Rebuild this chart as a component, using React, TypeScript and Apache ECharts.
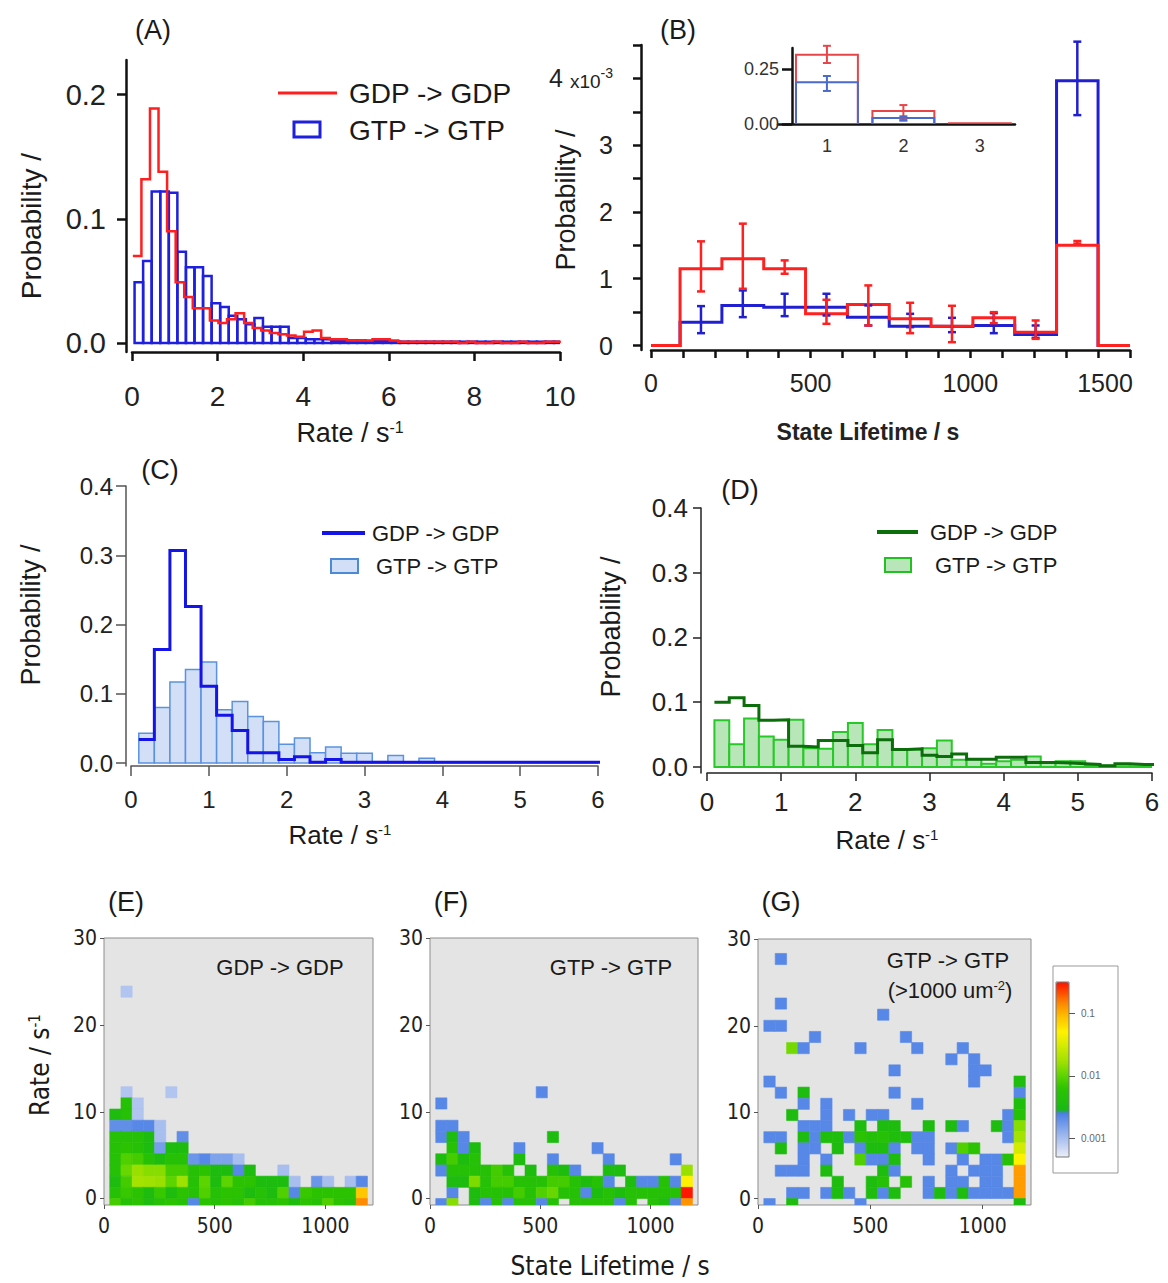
import React, { useEffect, useRef } from "react";
import * as echarts from "echarts";

const FONT = "'Liberation Sans', Arial, sans-serif";
const NARROW = "'Liberation Sans Narrow', 'DejaVu Sans Condensed', 'Liberation Sans', sans-serif";
const INK = "#1a1a1a";

// ---------------- Panel A : rate histograms ----------------
const aBinWidth = 0.2;
const aGdpStart = 0.02;
const aGtpStart = 0.06;
const aGdp = [0.070, 0.132, 0.189, 0.138, 0.090, 0.049, 0.037, 0.028, 0.028, 0.018, 0.016, 0.019, 0.024, 0.016, 0.012, 0.010, 0.008, 0.007, 0.006, 0.005, 0.009, 0.010, 0.004, 0.003, 0.003, 0.002, 0.002, 0.002, 0.003, 0.003, 0.002, 0.001, 0.001, 0.001, 0.001, 0.001, 0.001, 0.001, 0.0, 0.001, 0.0, 0.0, 0.001, 0.0, 0.0, 0.001, 0.0, 0.0, 0.001, 0.001];
const aGtp = [0.049, 0.066, 0.122, 0.122, 0.121, 0.0735, 0.061, 0.061, 0.054, 0.032, 0.029, 0.022, 0.019, 0.015, 0.020, 0.013, 0.013, 0.013, 0.004, 0.004, 0.003, 0.003, 0.003, 0.002, 0.002, 0.002, 0.002, 0.0015, 0.0015, 0.0015, 0.001, 0.001, 0.001, 0.001, 0.001, 0.001, 0.001, 0.001, 0.001, 0.001, 0.001, 0.001, 0.001, 0.001, 0.001, 0.001, 0.001, 0.001, 0.001, 0.001];
const aXLabels = [0, 2, 4, 6, 8, 10];
const aYLabels = [0, 0.1, 0.2];

// ---------------- Panel B : state lifetime ----------------
const bEdges = [0, 91, 222, 353, 484, 615, 746, 877, 1008, 1139, 1270, 1400, 1500];
const bGdp = [0, 1.15, 1.30, 1.15, 0.475, 0.615, 0.40, 0.29, 0.415, 0.20, 1.50, 0];
const bGtp = [0, 0.35, 0.60, 0.575, 0.575, 0.425, 0.29, 0.285, 0.30, 0.165, 3.965, 0];
const bGdpLo = [null, 0.81, 0.85, 1.075, 0.325, 0.30, 0.185, 0.05, 0.335, 0.10, 1.525, null];
const bGdpHi = [null, 1.56, 1.825, 1.275, 0.685, 0.90, 0.64, 0.595, 0.50, 0.375, 1.565, null];
const bGtpLo = [null, 0.185, 0.425, 0.44, 0.45, 0.30, 0.275, 0.20, 0.185, 0.115, 3.45, null];
const bGtpHi = [null, 0.59, 0.825, 0.775, 0.775, 0.60, 0.475, 0.415, 0.485, 0.30, 4.55, null];
const bXLabels = [0, 500, 1000, 1500];
const bXTicks = [0, 100, 200, 300, 400, 500, 600, 700, 800, 900, 1000, 1100, 1200, 1300, 1400, 1500];
const bYLabels = [0, 1, 2, 3, 4];
const bYTicks = [0, 0.5, 1, 1.5, 2, 2.5, 3, 3.5, 4, 4.5];

// inset of B : number of states
const insetStates = [1, 2, 3];
const insetBarHalf = 0.405;
const insetGdp = [0.314, 0.059, 0.003];
const insetGtp = [0.19, 0.027, 0.0];
const insetGdpLo = [0.277, 0.02, null];
const insetGdpHi = [0.355, 0.086, null];
const insetGtpLo = [0.15, 0.015, null];
const insetGtpHi = [0.218, 0.035, null];
const insetYLabels = [0, 0.25];

// ---------------- Panel C ----------------
const cStart = 0.1;
const cBinWidth = 0.2;
const cGdp = [0.034, 0.164, 0.307, 0.226, 0.111, 0.069, 0.047, 0.015, 0.015, 0.005, 0.009, 0.001, 0.005, 0.001, 0.001, 0.001, 0.001, 0.001, 0.001, 0.001, 0.001, 0.001, 0.001, 0.001, 0.001, 0.001, 0.001, 0.001, 0.001, 0.001];
const cGtp = [0.043, 0.080, 0.117, 0.135, 0.146, 0.077, 0.089, 0.067, 0.060, 0.027, 0.036, 0.015, 0.023, 0.014, 0.014, 0.002, 0.011, 0.001, 0.007, 0.001, 0, 0, 0, 0, 0, 0, 0, 0, 0, 0];
const cdXLabels = [0, 1, 2, 3, 4, 5, 6];
const cdYLabels = [0, 0.1, 0.2, 0.3, 0.4];

// ---------------- Panel D ----------------
const dStart = 0.1;
const dBinWidth = 0.2;
const dGdp = [0.100, 0.107, 0.095, 0.072, 0.073, 0.032, 0.031, 0.041, 0.041, 0.033, 0.022, 0.042, 0.027, 0.028, 0.018, 0.016, 0.020, 0.012, 0.012, 0.015, 0.015, 0.007, 0.007, 0.006, 0.005, 0.004, 0.002, 0.005, 0.004, 0.004];
const dGtp = [0.072, 0.035, 0.075, 0.047, 0.042, 0.073, 0.029, 0.028, 0.054, 0.068, 0.035, 0.057, 0.027, 0.027, 0.029, 0.041, 0.011, 0.012, 0.005, 0.009, 0.011, 0.016, 0.007, 0.009, 0.009, 0.002, 0.002, 0.001, 0.001, 0.001];

// ---------------- Panels E, F, G : 2D histograms [lifetime bin, rate bin, probability] ----------------
const heatLifetimeStart = 26;
const heatLifetimeWidth = 50.6;
const heatRateWidth = 1.29;
const heatXLabels = [0, 500, 1000];
const heatYLabels = [0, 10, 20, 30];
const cbLabels = [-3, -2, -1];

const heatE = [
  [1, 19, 0.0009],
  [1, 10, 0.0009], [5, 10, 0.0009],
  [1, 9, 0.005], [2, 9, 0.0009],
  [0, 8, 0.0035], [1, 8, 0.005], [2, 8, 0.0009],
  [0, 7, 0.002], [1, 7, 0.002], [2, 7, 0.0022], [3, 7, 0.0022], [4, 7, 0.001],
  [0, 6, 0.005], [1, 6, 0.005], [2, 6, 0.005], [3, 6, 0.0035], [4, 6, 0.001], [6, 6, 0.002],
  [0, 5, 0.005], [1, 5, 0.006], [2, 5, 0.005], [3, 5, 0.0035], [4, 5, 0.0016], [5, 5, 0.0035], [6, 5, 0.0035],
  [0, 4, 0.005], [1, 4, 0.009], [2, 4, 0.008], [3, 4, 0.005], [4, 4, 0.0035], [5, 4, 0.005], [6, 4, 0.005], [7, 4, 0.0018], [8, 4, 0.0022], [9, 4, 0.0015], [10, 4, 0.0015], [11, 4, 0.001],
  [0, 3, 0.005], [1, 3, 0.011], [2, 3, 0.016], [3, 3, 0.014], [4, 3, 0.014], [5, 3, 0.008], [6, 3, 0.008], [7, 3, 0.005], [8, 3, 0.006], [9, 3, 0.0035], [10, 3, 0.0035], [11, 3, 0.0022], [12, 3, 0.0035], [15, 3, 0.001],
  [0, 2, 0.0035], [1, 2, 0.008], [2, 2, 0.018], [3, 2, 0.017], [4, 2, 0.016], [5, 2, 0.01], [6, 2, 0.017], [7, 2, 0.005], [8, 2, 0.01], [9, 2, 0.0035], [10, 2, 0.01], [11, 2, 0.006], [12, 2, 0.006], [13, 2, 0.0035], [14, 2, 0.0035], [15, 2, 0.0035], [16, 2, 0.001], [18, 2, 0.0018], [19, 2, 0.001], [21, 2, 0.001], [22, 2, 0.0022],
  [0, 1, 0.005], [1, 1, 0.007], [2, 1, 0.006], [3, 1, 0.0035], [4, 1, 0.007], [5, 1, 0.0035], [6, 1, 0.006], [7, 1, 0.005], [8, 1, 0.009], [9, 1, 0.005], [10, 1, 0.006], [11, 1, 0.006], [12, 1, 0.0035], [13, 1, 0.005], [14, 1, 0.0035], [15, 1, 0.009], [16, 1, 0.0022], [17, 1, 0.007], [18, 1, 0.006], [19, 1, 0.006], [20, 1, 0.006], [21, 1, 0.006], [22, 1, 0.08],
  [0, 0, 0.008], [1, 0, 0.005], [2, 0, 0.006], [3, 0, 0.0035], [4, 0, 0.005], [5, 0, 0.006], [6, 0, 0.005], [7, 0, 0.0022], [8, 0, 0.006], [9, 0, 0.005], [10, 0, 0.006], [11, 0, 0.005], [12, 0, 0.008], [13, 0, 0.005], [14, 0, 0.005], [15, 0, 0.006], [16, 0, 0.0035], [17, 0, 0.006], [18, 0, 0.005], [19, 0, 0.009], [20, 0, 0.006], [21, 0, 0.005], [22, 0, 0.14],
];

const heatF = [
  [9, 10, 0.0022],
  [0, 9, 0.0022],
  [0, 7, 0.0022], [1, 7, 0.0022],
  [0, 6, 0.0022], [1, 6, 0.0035], [2, 6, 0.0022], [10, 6, 0.0035],
  [1, 5, 0.005], [2, 5, 0.0022], [3, 5, 0.0035], [7, 5, 0.0022], [14, 5, 0.0022],
  [0, 4, 0.0035], [1, 4, 0.008], [2, 4, 0.0035], [3, 4, 0.005], [7, 4, 0.0035], [10, 4, 0.0022], [15, 4, 0.0022], [21, 4, 0.0022],
  [0, 3, 0.0022], [1, 3, 0.005], [2, 3, 0.005], [3, 3, 0.005], [4, 3, 0.005], [5, 3, 0.008], [6, 3, 0.005], [8, 3, 0.0035], [10, 3, 0.005], [11, 3, 0.0035], [12, 3, 0.0022], [15, 3, 0.0035], [16, 3, 0.0035], [22, 3, 0.016],
  [1, 2, 0.0035], [2, 2, 0.0035], [3, 2, 0.013], [4, 2, 0.005], [5, 2, 0.008], [6, 2, 0.008], [7, 2, 0.005], [8, 2, 0.005], [9, 2, 0.005], [10, 2, 0.008], [11, 2, 0.008], [12, 2, 0.005], [13, 2, 0.0035], [14, 2, 0.005], [15, 2, 0.0022], [17, 2, 0.0035], [18, 2, 0.0022], [19, 2, 0.0022], [20, 2, 0.005], [21, 2, 0.0022], [22, 2, 0.05],
  [1, 1, 0.0022], [3, 1, 0.0035], [4, 1, 0.005], [5, 1, 0.005], [6, 1, 0.005], [7, 1, 0.008], [8, 1, 0.005], [9, 1, 0.009], [10, 1, 0.011], [11, 1, 0.005], [12, 1, 0.005], [13, 1, 0.0022], [14, 1, 0.0035], [15, 1, 0.005], [16, 1, 0.0035], [17, 1, 0.005], [18, 1, 0.005], [19, 1, 0.005], [20, 1, 0.005], [21, 1, 0.005], [22, 1, 0.3],
  [0, 0, 0.0022], [1, 0, 0.014], [3, 0, 0.0035], [4, 0, 0.0022], [5, 0, 0.005], [6, 0, 0.0022], [7, 0, 0.005], [8, 0, 0.005], [9, 0, 0.0022], [10, 0, 0.005], [12, 0, 0.005], [13, 0, 0.005], [14, 0, 0.005], [15, 0, 0.005], [16, 0, 0.0022], [17, 0, 0.005], [19, 0, 0.005], [20, 0, 0.0035], [21, 0, 0.0022], [22, 0, 0.13],
];

const heatG = [
  [1, 22, 0.0022], [1, 18, 0.0022], [10, 17, 0.0022], [0, 16, 0.0022], [1, 16, 0.0022], [4, 15, 0.0022], [12, 15, 0.0022],
  [2, 14, 0.012], [3, 14, 0.0022], [8, 14, 0.0022], [13, 14, 0.0022], [17, 14, 0.0022],
  [16, 13, 0.0022], [18, 13, 0.0022],
  [11, 12, 0.0022], [18, 12, 0.0022], [19, 12, 0.0022],
  [0, 11, 0.0022], [18, 11, 0.0022], [22, 11, 0.004],
  [1, 10, 0.0022], [3, 10, 0.0035], [11, 10, 0.0022], [22, 10, 0.0022],
  [3, 9, 0.0022], [5, 9, 0.0022], [13, 9, 0.0022], [22, 9, 0.004],
  [2, 8, 0.0035], [5, 8, 0.0022], [7, 8, 0.0022], [9, 8, 0.0022], [10, 8, 0.0022], [21, 8, 0.0022], [22, 8, 0.005],
  [3, 7, 0.0022], [4, 7, 0.0022], [5, 7, 0.0022], [8, 7, 0.0035], [10, 7, 0.0035], [11, 7, 0.0035], [14, 7, 0.0035], [16, 7, 0.0035], [17, 7, 0.0022], [20, 7, 0.0035], [21, 7, 0.0022], [22, 7, 0.014],
  [0, 6, 0.0022], [1, 6, 0.0022], [3, 6, 0.0035], [4, 6, 0.0022], [5, 6, 0.004], [6, 6, 0.004], [7, 6, 0.0022], [8, 6, 0.006], [9, 6, 0.0045], [10, 6, 0.005], [11, 6, 0.004], [12, 6, 0.004], [13, 6, 0.0022], [14, 6, 0.0022], [21, 6, 0.0022], [22, 6, 0.018],
  [1, 5, 0.0035], [3, 5, 0.0022], [4, 5, 0.0022], [6, 5, 0.0035], [8, 5, 0.0022], [9, 5, 0.0035], [10, 5, 0.0035], [11, 5, 0.0022], [13, 5, 0.0022], [14, 5, 0.0022], [16, 5, 0.0022], [17, 5, 0.009], [18, 5, 0.006], [22, 5, 0.03],
  [3, 4, 0.0022], [5, 4, 0.0022], [8, 4, 0.009], [9, 4, 0.0022], [10, 4, 0.0022], [11, 4, 0.0035], [14, 4, 0.0022], [17, 4, 0.0022], [19, 4, 0.0022], [20, 4, 0.0022], [21, 4, 0.005], [22, 4, 0.05],
  [1, 3, 0.0022], [2, 3, 0.0022], [3, 3, 0.0022], [5, 3, 0.0035], [10, 3, 0.0035], [11, 3, 0.0022], [16, 3, 0.0022], [18, 3, 0.0022], [19, 3, 0.0022], [20, 3, 0.0022], [22, 3, 0.12],
  [6, 2, 0.0035], [9, 2, 0.0035], [10, 2, 0.005], [12, 2, 0.005], [14, 2, 0.0022], [16, 2, 0.0022], [17, 2, 0.0022], [19, 2, 0.0022], [20, 2, 0.0022], [22, 2, 0.12],
  [2, 1, 0.0022], [3, 1, 0.0022], [5, 1, 0.0022], [6, 1, 0.0035], [7, 1, 0.0022], [9, 1, 0.0035], [10, 1, 0.0022], [11, 1, 0.0035], [14, 1, 0.0022], [15, 1, 0.0035], [16, 1, 0.0022], [17, 1, 0.0035], [18, 1, 0.0022], [19, 1, 0.0022], [20, 1, 0.0022], [21, 1, 0.0022], [22, 1, 0.12],
  [0, 0, 0.0022], [2, 0, 0.0035], [8, 0, 0.0022], [22, 0, 0.0035],
];

// colour scale of the 2D histograms (log10 probability -> colour)
const cbMin = -3.3;
const cbMax = -0.5;
const rampAnchors: [number, string][] = [
  [-3.3, "#eceef6"], [-2.6, "#4a7fe6"], [-2.575, "#16b816"], [-2.2, "#2cc400"],
  [-2.0, "#5cd400"], [-1.8, "#98e000"], [-1.5, "#d8ec00"], [-1.3, "#fff200"],
  [-1.05, "#ffbe00"], [-0.85, "#ff8a00"], [-0.5, "#ff1000"],
];

function hexRgb(h: string) {
  return [parseInt(h.slice(1, 3), 16), parseInt(h.slice(3, 5), 16), parseInt(h.slice(5, 7), 16)];
}
function buildRamp(step: number) {
  const out: string[] = [];
  for (let v = cbMin; v <= cbMax + 1e-9; v += step) {
    let i = 0;
    while (i < rampAnchors.length - 2 && v > rampAnchors[i + 1][0]) i++;
    const [v0, c0] = rampAnchors[i];
    const [v1, c1] = rampAnchors[i + 1];
    const t = Math.max(0, Math.min(1, (v - v0) / (v1 - v0)));
    const a = hexRgb(c0), b = hexRgb(c1);
    const c = a.map((x, k) => Math.round(x + (b[k] - x) * t));
    out.push(`rgb(${c[0]},${c[1]},${c[2]})`);
  }
  return out;
}

// ---------------- helpers ----------------
const uniformEdges = (start: number, w: number, n: number) => Array.from({ length: n + 1 }, (_, i) => start + i * w);

function stepPoints(edges: number[], vals: number[]) {
  const pts: number[][] = [];
  vals.forEach((v, i) => {
    pts.push([edges[i], v]);
    pts.push([edges[i + 1], v]);
  });
  return pts;
}

function stepLine(gi: number, edges: number[], vals: number[], color: string, width: number, z: number) {
  return {
    type: "line", xAxisIndex: gi, yAxisIndex: gi, data: stepPoints(edges, vals), symbol: "none", clip: true, z,
    lineStyle: { color, width, join: "miter" }, silent: true,
  };
}

function outlineBars(gi: number, edges: number[], vals: number[], stroke: string, fill: string, lw: number, z: number) {
  return {
    type: "custom", xAxisIndex: gi, yAxisIndex: gi, z, clip: true, silent: true,
    data: vals.map((v, i) => [edges[i], edges[i + 1], v]),
    encode: { x: [0, 1], y: 2 },
    renderItem: (_p: any, api: any) => {
      const a = api.coord([api.value(0), 0]);
      const b = api.coord([api.value(1), api.value(2)]);
      return { type: "rect", shape: { x: a[0], y: b[1], width: b[0] - a[0], height: a[1] - b[1] }, style: { fill, stroke, lineWidth: lw } };
    },
  };
}

function errorBars(gi: number, centers: number[], lo: (number | null)[], hi: (number | null)[], color: string, lw: number, cap: number, z: number) {
  const data: number[][] = [];
  centers.forEach((c, i) => {
    if (lo[i] != null && hi[i] != null) data.push([c, lo[i] as number, hi[i] as number]);
  });
  return {
    type: "custom", xAxisIndex: gi, yAxisIndex: gi, z, clip: false, silent: true, data,
    encode: { x: 0, y: [1, 2] },
    renderItem: (_p: any, api: any) => {
      const a = api.coord([api.value(0), api.value(1)]);
      const b = api.coord([api.value(0), api.value(2)]);
      const st = { stroke: color, lineWidth: lw };
      return {
        type: "group", children: [
          { type: "line", shape: { x1: a[0], y1: a[1], x2: b[0], y2: b[1] }, style: st },
          { type: "line", shape: { x1: a[0] - cap, y1: a[1], x2: a[0] + cap, y2: a[1] }, style: st },
          { type: "line", shape: { x1: b[0] - cap, y1: b[1], x2: b[0] + cap, y2: b[1] }, style: st },
        ],
      };
    },
  };
}

function heatSeries(gi: number, cells: number[][]) {
  return {
    type: "custom", xAxisIndex: gi, yAxisIndex: gi, clip: true, silent: true,
    data: cells.map(([k, r, v]) => [k, r, v, Math.log10(v)]),
    encode: { x: 0, y: 1 },
    renderItem: (_p: any, api: any) => {
      const k = api.value(0), r = api.value(1);
      const x0 = heatLifetimeStart + k * heatLifetimeWidth;
      const x1 = x0 + heatLifetimeWidth;
      const y0 = (r - 1) * heatRateWidth;
      const y1 = r * heatRateWidth;
      const a = api.coord([x0, y0]);
      const b = api.coord([x1, y1]);
      const c = api.visual("color");
      return { type: "rect", shape: { x: a[0], y: b[1], width: b[0] - a[0], height: a[1] - b[1] }, style: { fill: c, stroke: c, lineWidth: 0.6 } };
    },
  };
}

type AxOpt = {
  gi: number; min: number; max: number; labels?: number[]; ticks?: number[]; fmt?: (v: number) => string;
  fontSize?: number; font?: string; color?: string; lineWidth?: number; tickLen?: number; margin?: number;
  offset?: number; showTicks?: boolean; showLine?: boolean; showLabels?: boolean; rich?: any; position?: string; labelColor?: string;
};
function mkAxis(o: AxOpt) {
  const col = o.color ?? "#111";
  return {
    type: "value", gridIndex: o.gi, min: o.min, max: o.max, offset: o.offset ?? 0, position: o.position,
    splitLine: { show: false },
    axisLine: { show: o.showLine !== false, onZero: false, lineStyle: { color: col, width: o.lineWidth ?? 2 } },
    axisTick: { show: o.showTicks !== false, customValues: o.ticks ?? o.labels, length: o.tickLen ?? 8, lineStyle: { color: col, width: o.lineWidth ?? 2 } },
    axisLabel: {
      show: o.showLabels !== false, customValues: o.labels, formatter: o.fmt ?? ((v: number) => String(v)),
      fontSize: o.fontSize ?? 26, fontFamily: o.font ?? FONT, color: o.labelColor ?? "#222", margin: o.margin ?? 10, rich: o.rich, hideOverlap: false,
    },
  };
}

function txt(x: number, y: number, text: string, size: number, opts: any = {}) {
  return {
    type: "text", x, y, rotation: opts.rot ?? 0, z: 100, silent: true,
    style: {
      text, fontSize: size, fontFamily: opts.font ?? FONT, fontWeight: opts.weight ?? "normal",
      fill: opts.color ?? INK, align: opts.align ?? "center", verticalAlign: "middle",
      rich: {
        sup: { fontSize: Math.round(size * 0.58), fontFamily: opts.font ?? FONT, fill: opts.color ?? INK, verticalAlign: "top" },
      },
    },
  };
}

function buildOption() {
  const aGdpEdges = uniformEdges(aGdpStart, aBinWidth, aGdp.length);
  const aGtpEdges = uniformEdges(aGtpStart, aBinWidth, aGtp.length);
  const cEdges = uniformEdges(cStart, cBinWidth, cGdp.length);
  const dEdges = uniformEdges(dStart, dBinWidth, dGdp.length);
  const bCenters = bEdges.slice(0, -1).map((e, i) => (e + bEdges[i + 1]) / 2);

  const insetRed = insetStates.map((s, i) => [s - insetBarHalf, s + insetBarHalf, insetGdp[i]]);
  const insetBlue = insetStates.map((s, i) => [s - insetBarHalf, s + insetBarHalf, insetGtp[i]]);

  const grid = [
    { left: 132, top: 60, width: 428, height: 292 },   // A
    { left: 651, top: 45, width: 479, height: 305 },   // B
    { left: 778, top: 48, width: 237, height: 76 },    // B inset
    { left: 131, top: 486, width: 467, height: 280 },  // C
    { left: 707, top: 508, width: 445, height: 265 },  // D
    { left: 104, top: 938, width: 269, height: 267, show: true, backgroundColor: "#e4e4e4", borderColor: "#8c8c8c", borderWidth: 1 }, // E
    { left: 430, top: 938, width: 268, height: 267, show: true, backgroundColor: "#e4e4e4", borderColor: "#8c8c8c", borderWidth: 1 }, // F
    { left: 758, top: 939, width: 273, height: 266, show: true, backgroundColor: "#e4e4e4", borderColor: "#8c8c8c", borderWidth: 1 }, // G
    { left: 1056, top: 982, width: 13, height: 175 },  // colour bar
  ];

  const heatAxX = (gi: number) => mkAxis({ gi, min: 0, max: 1215, labels: heatXLabels, fontSize: 21, font: NARROW, color: "#555", lineWidth: 1, tickLen: 4, margin: 10, showLine: false });
  const heatAxY = (gi: number) => mkAxis({ gi, min: -0.75, max: 30.05, labels: heatYLabels, fontSize: 21, font: NARROW, color: "#555", lineWidth: 1, tickLen: 4, margin: 7, showLine: false });

  const xAxis = [
    mkAxis({ gi: 0, min: 0, max: 10, labels: aXLabels, fontSize: 28, margin: 30, lineWidth: 2.5, tickLen: 9 }),
    mkAxis({ gi: 1, min: 0, max: 1500, labels: bXLabels, ticks: bXTicks, fontSize: 25, margin: 20, lineWidth: 2.5, tickLen: 8,
      fmt: (v: number) => (v === 1500 ? "{r|1500}" : String(v)), rich: { r: { fontSize: 25, fontFamily: FONT, color: "#222", padding: [0, 50, 0, 0] } } }),
    mkAxis({ gi: 2, min: 0.36, max: 3.46, labels: insetStates, fontSize: 18, margin: 13, lineWidth: 2.5, showTicks: false, labelColor: "#333" }),
    mkAxis({ gi: 3, min: 0, max: 6, labels: cdXLabels, fontSize: 24, margin: 21, lineWidth: 1.5, color: "#555", tickLen: 10 }),
    mkAxis({ gi: 4, min: 0, max: 6, labels: cdXLabels, fontSize: 26, margin: 16, lineWidth: 1.5, color: "#222", tickLen: 8 }),
    heatAxX(5), heatAxX(6), heatAxX(7),
    mkAxis({ gi: 8, min: 0, max: 1, showLine: false, showTicks: false, showLabels: false }),
  ];

  const yAxis = [
    mkAxis({ gi: 0, min: -0.0073, max: 0.228, labels: aYLabels, fontSize: 29, margin: 20, offset: 6, lineWidth: 2.5, tickLen: 9, fmt: (v: number) => v.toFixed(1) }),
    mkAxis({ gi: 1, min: -0.067, max: 4.5, labels: bYLabels, ticks: bYTicks, fontSize: 25, margin: 28, offset: 10, lineWidth: 2.5, tickLen: 8,
      fmt: (v: number) => (v === 4 ? "4 {m|x10}{sup|-3}" : String(v)),
      rich: { m: { fontSize: 19, fontFamily: FONT, color: "#222", verticalAlign: "bottom" }, sup: { fontSize: 14, fontFamily: FONT, color: "#222", verticalAlign: "top" } } }),
    mkAxis({ gi: 2, min: 0, max: 0.345, labels: insetYLabels, fontSize: 18, margin: 13, offset: -14, lineWidth: 2.5, tickLen: 10, labelColor: "#333", fmt: (v: number) => v.toFixed(2) }),
    mkAxis({ gi: 3, min: -0.0043, max: 0.4, labels: cdYLabels, fontSize: 24, margin: 13, offset: 5, lineWidth: 1.5, color: "#555", tickLen: 10, fmt: (v: number) => v.toFixed(1) }),
    mkAxis({ gi: 4, min: -0.0093, max: 0.4, labels: cdYLabels, fontSize: 26, margin: 13, offset: 6, lineWidth: 1.5, color: "#222", tickLen: 8, fmt: (v: number) => v.toFixed(1) }),
    heatAxY(5), heatAxY(6), heatAxY(7),
    mkAxis({ gi: 8, min: cbMin, max: cbMax, labels: cbLabels, position: "right", showLine: false, fontSize: 10, margin: 12, color: "#555", lineWidth: 1, tickLen: 6, labelColor: "#666",
      fmt: (v: number) => String(Math.pow(10, v)) }),
  ];

  const series: any[] = [
    // A
    outlineBars(0, aGtpEdges, aGtp, "#1f1fe0", "rgba(255,255,255,0)", 2.5, 2),
    stepLine(0, aGdpEdges, aGdp, "#ff1f1f", 2.5, 3),
    // B
    stepLine(1, bEdges, bGtp, "#2020d0", 3, 2),
    stepLine(1, bEdges, bGdp, "#ff2020", 3, 3),
    errorBars(1, bCenters, bGtpLo, bGtpHi, "#2020d0", 2.5, 4, 4),
    errorBars(1, bCenters, bGdpLo, bGdpHi, "#ff2020", 2.5, 4, 5),
    // B inset
    { ...outlineBars(2, [], [], "#e8454a", "rgba(255,255,255,0)", 2, 2), data: insetRed },
    { ...outlineBars(2, [], [], "#4a6acc", "rgba(255,255,255,0)", 2, 3), data: insetBlue },
    errorBars(2, insetStates, insetGdpLo, insetGdpHi, "#e8454a", 2, 4, 4),
    errorBars(2, insetStates, insetGtpLo, insetGtpHi, "#4a6acc", 2, 4, 5),
    // C
    outlineBars(3, cEdges, cGtp, "#5a92e0", "#d3dff7", 1.5, 2),
    stepLine(3, cEdges, cGdp, "#1414e8", 3, 3),
    // D
    outlineBars(4, dEdges, dGtp, "#28c828", "#b8e6b8", 2, 2),
    stepLine(4, dEdges, dGdp, "#0b6e0b", 3, 3),
  ];
  const heatStart = series.length;
  series.push(heatSeries(5, heatE), heatSeries(6, heatF), heatSeries(7, heatG));

  const graphic: any[] = [
    txt(153, 30, "(A)", 27), txt(678, 30, "(B)", 27), txt(160, 470, "(C)", 27), txt(740, 490, "(D)", 27),
    txt(126, 902, "(E)", 27), txt(451, 902, "(F)", 27), txt(781, 902, "(G)", 27),
    // A legend
    { type: "line", shape: { x1: 278, y1: 93, x2: 337, y2: 93 }, style: { stroke: "#ff1f1f", lineWidth: 3 }, z: 100, silent: true },
    txt(349, 93, "GDP -> GDP", 28, { align: "left" }),
    { type: "rect", shape: { x: 294, y: 122, width: 26, height: 15 }, style: { stroke: "#1f1fe0", fill: "#fff", lineWidth: 3 }, z: 100, silent: true },
    txt(349, 130, "GTP -> GTP", 28, { align: "left" }),
    txt(31, 226, "Probability /", 28, { rot: Math.PI / 2 }),
    txt(350, 433, "Rate / s{sup|-1}", 27),
    // B
    txt(566, 200, "Probability /", 27, { rot: Math.PI / 2 }),
    txt(868, 432, "State Lifetime / s", 23, { weight: "bold", color: "#222" }),
    // C
    { type: "line", shape: { x1: 322, y1: 533, x2: 365, y2: 533 }, style: { stroke: "#1414e8", lineWidth: 4 }, z: 100, silent: true },
    txt(372, 533, "GDP -> GDP", 22, { align: "left" }),
    { type: "rect", shape: { x: 331, y: 559, width: 27, height: 14 }, style: { stroke: "#4c8ad8", fill: "#d3dff7", lineWidth: 2 }, z: 100, silent: true },
    txt(376, 566, "GTP -> GTP", 22, { align: "left" }),
    txt(31, 615, "Probability /", 27, { rot: Math.PI / 2 }),
    txt(340, 835, "Rate / s{sup|-1}", 26),
    // D
    { type: "line", shape: { x1: 877, y1: 532, x2: 918, y2: 532 }, style: { stroke: "#0b6e0b", lineWidth: 4 }, z: 100, silent: true },
    txt(930, 532, "GDP -> GDP", 22, { align: "left" }),
    { type: "rect", shape: { x: 885, y: 558, width: 26, height: 14 }, style: { stroke: "#22c022", fill: "#b8e6b8", lineWidth: 2 }, z: 100, silent: true },
    txt(935, 565, "GTP -> GTP", 22, { align: "left" }),
    txt(611, 627, "Probability /", 27, { rot: Math.PI / 2 }),
    txt(887, 840, "Rate / s{sup|-1}", 26),
    // E F G
    txt(40, 1065, "Rate / s{sup|-1}", 26, { rot: Math.PI / 2, font: NARROW }),
    txt(610, 1266, "State Lifetime / s", 26, { font: NARROW }),
    txt(280, 967, "GDP -> GDP", 22),
    txt(611, 967, "GTP -> GTP", 22),
    txt(948, 960, "GTP -> GTP", 22),
    txt(950, 990, "(>1000 um{sup|-2})", 22),
    // colour bar frame
    { type: "rect", shape: { x: 1053, y: 966, width: 65, height: 207 }, style: { stroke: "#999", fill: "rgba(0,0,0,0)", lineWidth: 1 }, z: 100, silent: true },
    { type: "rect", shape: { x: 1056, y: 982, width: 13, height: 175 }, style: { stroke: "#777", fill: "rgba(0,0,0,0)", lineWidth: 1 }, z: 100, silent: true },
  ];

  return {
    animation: false,
    backgroundColor: "#ffffff",
    textStyle: { fontFamily: FONT },
    grid,
    xAxis,
    yAxis,
    visualMap: [{
      type: "continuous", min: cbMin, max: cbMax, dimension: 3, seriesIndex: [heatStart, heatStart + 1, heatStart + 2],
      inRange: { color: buildRamp(0.05) }, calculable: false, show: true, orient: "vertical",
      left: 1056, top: 982, itemWidth: 13, itemHeight: 175, padding: 0, text: null, showLabel: false, hoverLink: false,
    }],
    series,
    graphic,
  };
}

export default function App() {
  const ref = useRef<HTMLDivElement>(null);
  useEffect(() => {
    if (!ref.current) return;
    const chart = echarts.init(ref.current, null, { renderer: "svg" });
    chart.setOption(buildOption() as any);
    return () => chart.dispose();
  }, []);
  return <div ref={ref} style={{ position: "absolute", left: 0, top: 0, width: 1168, height: 1283, background: "#fff" }} />;
}
